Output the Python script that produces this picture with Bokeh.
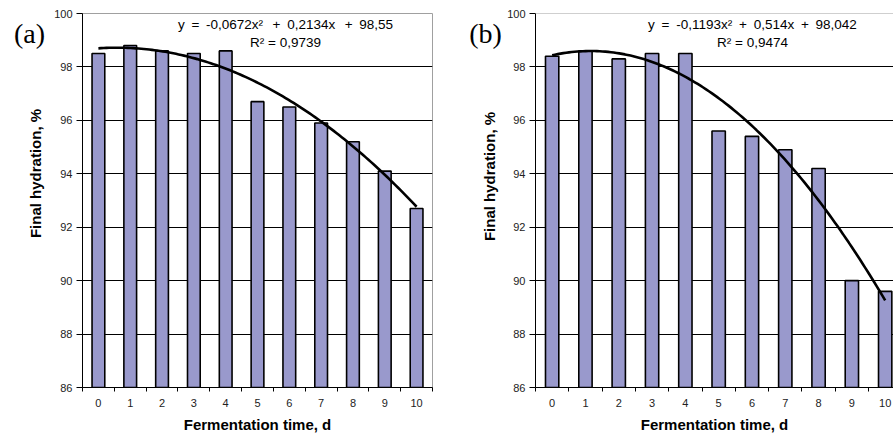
import numpy as np
from bokeh.plotting import figure
from bokeh.layouts import row
from bokeh.models import FixedTicker, Label, Span
from bokeh.embed import file_html
from bokeh.resources import INLINE

# ---- data ----
days = [0, 1, 2, 3, 4, 5, 6, 7, 8, 9, 10]
hydration_a = [98.5, 98.8, 98.6, 98.5, 98.6, 96.7, 96.5, 95.9, 95.2, 94.1, 92.7]
hydration_b = [98.4, 98.6, 98.3, 98.5, 98.5, 95.6, 95.4, 94.9, 94.2, 90.0, 89.6]
# trendline coefficients shown on chart (Excel x = day + 1): a*x^2 + b*x + c
coef_a = [-0.0672, 0.2134, 98.55]
coef_b = [-0.1193, 0.514, 98.042]
S = "\u2002"
eq_a = [f"y{S}={S}-0,0672x\u00b2{S}\u2009+{S}0,2134x{S}\u2009+{S}98,55", "R\u00b2 = 0,9739"]
eq_b = [f"y{S}={S}-0,1193x\u00b2{S}+{S}0,514x{S}+{S}98,042", "R\u00b2 = 0,9474"]
y_ticks = [86, 88, 90, 92, 94, 96, 98, 100]
grid_ticks = [88, 90, 92, 94, 96, 98]
panel_tags = ["(a)", "(b)"]

FONT = "Liberation Sans"
BAR_COLOR = "#9999cc"


def make_panel(values, coefs, eq, tag, width, border_left, border_right, x_end, outline,
               tag_x, ytitle_x, ytitle_y, eq_x):
    p = figure(width=width, height=435, output_backend="svg", toolbar_location=None,
               x_range=(-0.5, x_end), y_range=(86, 100),
               min_border_left=border_left, min_border_right=border_right,
               min_border_top=13, min_border_bottom=47)
    p.background_fill_color = "white"
    p.border_fill_color = "white"
    p.outline_line_color = "#a0a0a0" if outline else None
    p.outline_line_width = 1

    # grid
    p.xgrid.visible = False
    p.ygrid.ticker = FixedTicker(ticks=grid_ticks)
    p.ygrid.grid_line_color = "black"
    p.ygrid.grid_line_width = 1
    p.ygrid.grid_line_alpha = 1.0
    if not outline:
        p.add_layout(Span(location=100, dimension="width", line_color="#a0a0a0", line_width=1))

    # bars
    p.vbar(x=days, top=values, bottom=86, width=0.4, fill_color=BAR_COLOR,
           line_color="black", line_width=1.6)

    # trend line
    xs = np.linspace(days[0], days[-1], 120)
    ys = np.polyval(coefs, xs + 1)
    p.line(xs, ys, line_color="black", line_width=2.6)

    # x axis
    xa = p.xaxis[0]
    xa.ticker = FixedTicker(ticks=days, minor_ticks=[d - 0.5 for d in days] + [days[-1] + 0.5])
    xa.major_tick_line_color = None
    xa.major_tick_out = 0
    xa.major_tick_in = 0
    xa.minor_tick_line_color = "black"
    xa.minor_tick_out = 4
    xa.minor_tick_in = 0
    xa.axis_line_color = "black"
    xa.major_label_standoff = 7
    xa.major_label_text_font = FONT
    xa.major_label_text_font_size = "11px"
    xa.major_label_text_color = "#222222"
    xa.axis_label = "Fermentation time, d"
    xa.axis_label_text_font = FONT
    xa.axis_label_text_font_style = "bold"
    xa.axis_label_text_font_size = "15px"
    xa.axis_label_text_color = "black"
    xa.axis_label_standoff = 6

    # y axis
    ya = p.yaxis[0]
    ya.ticker = FixedTicker(ticks=y_ticks)
    ya.minor_tick_line_color = None
    ya.major_tick_out = 6
    ya.major_tick_in = 0
    ya.major_tick_line_color = "black"
    ya.axis_line_color = "black"
    ya.major_label_standoff = 4
    ya.major_label_text_font = FONT
    ya.major_label_text_font_size = "11px"
    ya.major_label_text_color = "#222222"

    # y title (placed in the left panel, shifted upward like the original)
    p.add_layout(Label(x=ytitle_x, y=ytitle_y, x_units="screen", y_units="screen",
                       text="Final hydration, %", angle=np.pi / 2,
                       text_align="center", text_baseline="middle",
                       text_font=FONT, text_font_style="bold", text_font_size="15px",
                       text_color="black"), "left")
    # panel tag
    p.add_layout(Label(x=tag_x, y=354, x_units="screen", y_units="screen", text=tag,
                       text_align="center", text_baseline="middle",
                       text_font="Liberation Serif", text_font_size="28px",
                       text_color="black"), "left")
    # equation text
    p.add_layout(Label(x=eq_x, y=363, x_units="screen", y_units="screen", text=eq[0],
                       level="overlay", text_align="center", text_baseline="middle",
                       text_font=FONT, text_font_size="13.5px", text_color="black"))
    p.add_layout(Label(x=eq_x, y=345, x_units="screen", y_units="screen", text=eq[1],
                       level="overlay", text_align="center", text_baseline="middle",
                       text_font=FONT, text_font_size="13.5px", text_color="black"))
    return p


pa = make_panel(hydration_a, coef_a, eq_a, panel_tags[0], width=445, border_left=82,
                border_right=13, x_end=10.5, outline=True, tag_x=26,
                ytitle_x=1, ytitle_y=214, eq_x=203)
pb = make_panel(hydration_b, coef_b, eq_b, panel_tags[1], width=448, border_left=90,
                border_right=0, x_end=10.25, outline=False, tag_x=31,
                ytitle_x=2, ytitle_y=211, eq_x=217)

layout = row(pa, pb, spacing=0)
open("out.html", "w").write(file_html(layout, INLINE))
